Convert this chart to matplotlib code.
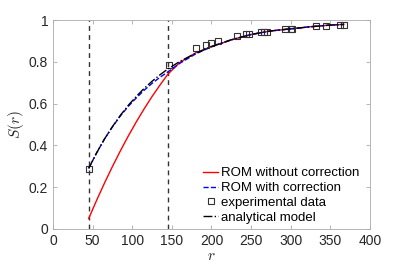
import matplotlib
matplotlib.use('Agg')
from matplotlib import pyplot as plt

plt.rcParams['font.family'] = ['Liberation Sans', 'DejaVu Sans']
plt.rcParams['mathtext.fontset'] = 'cm'

# curves
r_curve = [45, 55, 65, 75, 85, 95, 105, 115, 125, 135, 145, 160, 180, 200, 225, 250, 275, 300, 325, 350, 367]
S_rom = [0.05, 0.137, 0.220, 0.299, 0.374, 0.445, 0.512, 0.575, 0.634, 0.689, 0.741, 0.797, 0.843, 0.873,
         0.905, 0.931, 0.948, 0.958, 0.968, 0.976, 0.979]
S_rom_corr = [0.29, 0.364, 0.431, 0.489, 0.541, 0.587, 0.627, 0.664, 0.697, 0.726, 0.752, 0.793, 0.838, 0.872,
              0.905, 0.931, 0.948, 0.958, 0.968, 0.976, 0.979]
S_analytic = [0.29, 0.364, 0.431, 0.490, 0.544, 0.592, 0.634, 0.673, 0.707, 0.738, 0.766, 0.802, 0.841, 0.873,
              0.906, 0.931, 0.948, 0.958, 0.968, 0.976, 0.979]

# experimental points
r_exp = [45, 147, 181, 193, 199, 208, 232, 244, 247, 262, 266, 270, 293, 300, 302, 332, 344, 362, 367]
S_exp = [0.285, 0.785, 0.865, 0.88, 0.888, 0.901, 0.923, 0.933, 0.933, 0.944, 0.945, 0.945, 0.958, 0.958, 0.958, 0.971, 0.973, 0.976, 0.976]

r_bounds = [45, 145]

fig = plt.figure(figsize=(4.09, 2.71), dpi=100)
ax = fig.add_axes([0.1296, 0.155, 0.775, 0.771])

for rb in r_bounds:
    ax.axvline(rb, color='#333333', linestyle='--', linewidth=1.0, dashes=(3.5, 3))
ax.plot(r_curve, S_rom, color='red', linewidth=1.0, label='ROM without correction')
ax.plot(r_curve, S_rom_corr, color='blue', linestyle='--', linewidth=1.0, label='ROM with correction')
ax.plot(r_exp, S_exp, linestyle='none', marker='s', markersize=5, markerfacecolor='none',
        markeredgecolor='#333333', markeredgewidth=0.8, label='experimental data')
ax.plot(r_curve, S_analytic, color='black', linestyle='-.', linewidth=1.0, label='analytical model')

ax.set_xlim(0, 400)
ax.set_ylim(0, 1)
ax.set_xticks(range(0, 401, 50))
ax.set_yticks([0, 0.2, 0.4, 0.6, 0.8, 1])
ax.set_yticklabels(['0', '0.2', '0.4', '0.6', '0.8', '1'])
ax.tick_params(direction='in', top=True, right=True, length=3, width=0.5,
               colors='#999999', labelcolor='#262626', labelsize=10)
for s in ax.spines.values():
    s.set_color('#aaaaaa')
    s.set_linewidth(0.6)
ax.set_xlabel('$r$', fontsize=11, color='#262626', labelpad=1)
ax.set_ylabel('$S(r)$', fontsize=11, color='#262626', labelpad=2)

leg = ax.legend(loc='lower right', frameon=False, fontsize=9.5, handlelength=1.15,
                handletextpad=0.2, labelspacing=0.2, borderaxespad=0.3,
                bbox_to_anchor=(0.995, -0.02))

plt.savefig('out.png', dpi=100)
